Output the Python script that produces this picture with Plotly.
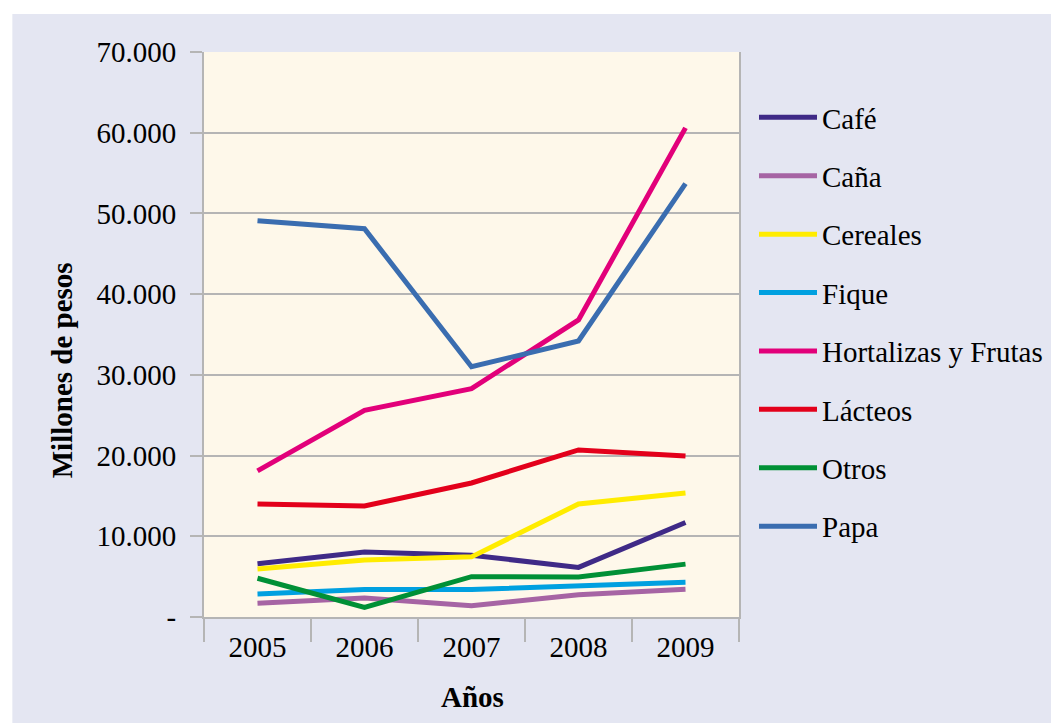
import plotly.graph_objects as go

years = ["2005", "2006", "2007", "2008", "2009"]
series_names = ["Café", "Caña", "Cereales", "Fique", "Hortalizas y Frutas", "Lácteos", "Otros", "Papa"]
cafe = [6600, 8050, 7650, 6150, 11700]
cana = [1700, 2350, 1400, 2750, 3450]
cereales = [5950, 7050, 7450, 14000, 15350]
fique = [2850, 3400, 3400, 3800, 4300]
hortalizas = [18100, 25600, 28300, 36800, 60600]
lacteos = [14000, 13750, 16600, 20700, 19950]
otros = [4800, 1200, 5000, 4950, 6550]
papa = [49100, 48100, 31000, 34200, 53700]
series_values = [cafe, cana, cereales, fique, hortalizas, lacteos, otros, papa]
colors = ["#3F2A87", "#A664A4", "#FFEC00", "#00A0E0", "#E2007A", "#E3001B", "#009036", "#3A6DB0"]

y_tickvals = [0, 10000, 20000, 30000, 40000, 50000, 60000, 70000]
y_ticktext = ["-", "10.000", "20.000", "30.000", "40.000", "50.000", "60.000", "70.000"]

FONT = "Liberation Serif"
FS = 29
OFF = 8  # page body margin
W, H = 1059 - OFF, 723 - OFF
L, T = 204 - OFF, 52 - OFF
R = W - (740 - OFF)
B = H - (617 - OFF)
pw, ph = W - L - R, H - T - B

def px_x(p):
    return (p - OFF - L) / pw

def px_y(p):
    return 1 - (p - OFF - T) / ph

fig = go.Figure()
for name, vals, col in zip(series_names, series_values, colors):
    fig.add_trace(go.Scatter(
        x=years, y=vals, name=name, mode="lines",
        line=dict(color=col, width=5), legendgroup=name,
    ))

grid = "#B5B5B5"
fig.update_layout(
    width=W, height=H,
    margin=dict(l=L, r=R, t=T, b=B, pad=0),
    paper_bgcolor="#E4E6F2",
    plot_bgcolor="#FEF8EA",
    font=dict(family=FONT, size=FS, color="#000000"),
    showlegend=True,
    legend=dict(
        x=px_x(754), y=px_y(92), xanchor="left", yanchor="top",
        bgcolor="rgba(0,0,0,0)", font=dict(family=FONT, size=FS),
        tracegroupgap=17.7, itemwidth=58, traceorder="grouped",
    ),
    xaxis=dict(
        type="category", range=[-0.5, 4.5], showgrid=False, showline=True, linecolor=grid, linewidth=2,
        ticks="outside", tickson="boundaries", ticklen=23, tickwidth=2, tickcolor=grid,
        tickfont=dict(family=FONT, size=FS), ticklabelstandoff=3,
    ),
    yaxis=dict(
        range=[0, 70000], tickvals=y_tickvals, ticktext=y_ticktext,
        showgrid=True, gridcolor=grid, gridwidth=2,
        showline=True, linecolor=grid, linewidth=2, mirror=True,
        ticks="outside", ticklen=12, tickwidth=2, tickcolor=grid,
        tickfont=dict(family=FONT, size=FS), ticklabelstandoff=8, zeroline=False,
    ),
    annotations=[
        dict(text="<b>Millones de pesos</b>", textangle=-90, xref="paper", yref="paper",
             x=px_x(62), y=px_y(370), showarrow=False, font=dict(family=FONT, size=FS),
             xanchor="center", yanchor="middle"),
        dict(text="<b>Años</b>", xref="paper", yref="paper",
             x=px_x(473), y=px_y(697), showarrow=False, font=dict(family=FONT, size=FS),
             xanchor="center", yanchor="middle"),
    ],
    shapes=[
        dict(type="rect", xref="paper", yref="paper", layer="above",
             x0=px_x(0), x1=px_x(1059), y0=px_y(14), y1=px_y(0),
             fillcolor="#FFFFFF", line=dict(width=0)),
        dict(type="rect", xref="paper", yref="paper", layer="above",
             x0=px_x(0), x1=px_x(12), y0=px_y(723), y1=px_y(0),
             fillcolor="#FFFFFF", line=dict(width=0)),
    ],
)

fig.write_html("out.html")
